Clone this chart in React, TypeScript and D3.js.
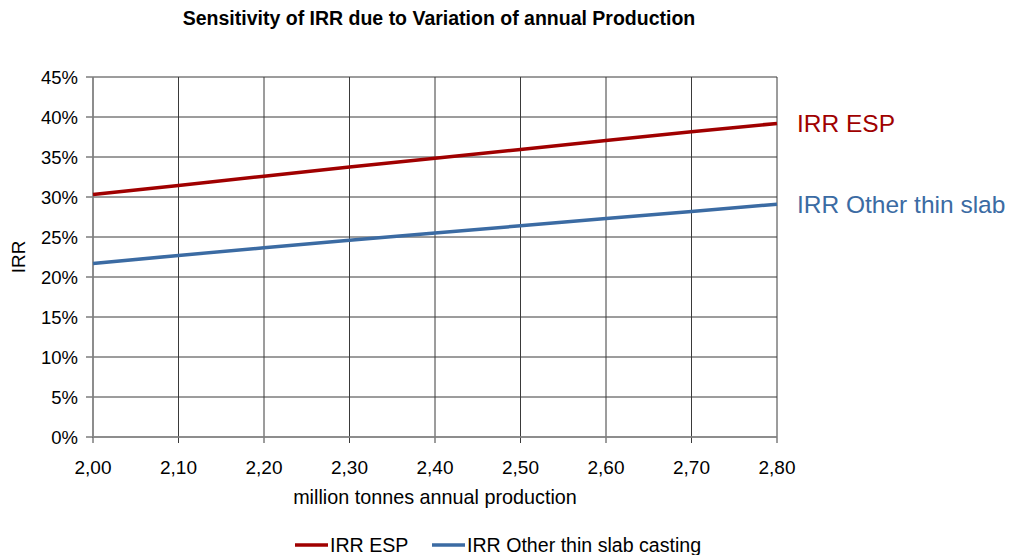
import React from "react";
import * as d3 from "d3";

const production = [2.0, 2.1, 2.2, 2.3, 2.4, 2.5, 2.6, 2.7, 2.8];
const irrEsp = [30.3, 31.45, 32.6, 33.75, 34.85, 35.95, 37.05, 38.15, 39.2];
const irrOther = [21.7, 22.7, 23.65, 24.6, 25.5, 26.4, 27.3, 28.2, 29.1];
const yTicks = [0, 5, 10, 15, 20, 25, 30, 35, 40, 45];

const RED = "#a00000";
const BLUE = "#3b6ba3";
const FONT = "'Liberation Sans', Arial, sans-serif";

export default function App() {
  const width = 1012;
  const height = 555;
  const m = { left: 93, right: 777, top: 77, bottom: 437 };

  const x = d3.scaleLinear().domain([2.0, 2.8]).range([m.left, m.right]);
  const y = d3.scaleLinear().domain([0, 45]).range([m.bottom, m.top]);

  const line = d3
    .line<number>()
    .x((_, i) => x(production[i]))
    .y((v) => y(v));

  const fmt = (v: number) => v.toFixed(2).replace(".", ",");

  return (
    <svg
      width={width}
      height={height}
      style={{ position: "absolute", left: 0, top: 0, fontFamily: FONT }}
    >
      <rect width={width} height={height} fill="#fff" />
      <text x={439} y={25} textAnchor="middle" fontSize={19.5} fontWeight="bold" fill="#000">
        Sensitivity of IRR due to Variation of annual Production
      </text>

      {yTicks.map((t) => (
        <g key={t}>
          <line x1={m.left - 7} x2={m.right} y1={y(t)} y2={y(t)} stroke="#3a3a3a" strokeWidth={1} />
          <text x={m.left - 15} y={y(t) + 7} textAnchor="end" fontSize={18.5} fill="#000">
            {t}%
          </text>
        </g>
      ))}
      {production.map((p) => (
        <g key={p}>
          <line x1={x(p)} x2={x(p)} y1={m.top} y2={m.bottom + 6} stroke="#3a3a3a" strokeWidth={1} />
          <text x={x(p)} y={m.bottom + 37} textAnchor="middle" fontSize={19} fill="#000">
            {fmt(p)}
          </text>
        </g>
      ))}
      <line x1={m.left} x2={m.left} y1={m.top} y2={m.bottom} stroke="#888" strokeWidth={1.5} />
      <line x1={m.left} x2={m.right} y1={m.bottom} y2={m.bottom} stroke="#888" strokeWidth={1.5} />

      <path d={line(irrEsp) ?? ""} fill="none" stroke={RED} strokeWidth={3.5} />
      <path d={line(irrOther) ?? ""} fill="none" stroke={BLUE} strokeWidth={3.5} />

      <text x={797} y={y(irrEsp[irrEsp.length - 1]) + 9} fontSize={24.5} fill={RED}>
        IRR ESP
      </text>
      <text x={797} y={y(irrOther[irrOther.length - 1]) + 9} fontSize={24.5} fill={BLUE}>
        IRR Other thin slab
      </text>

      <text
        transform={`translate(25, ${(m.top + m.bottom) / 2}) rotate(-90)`}
        textAnchor="middle"
        fontSize={19}
        fill="#000"
      >
        IRR
      </text>
      <text x={435} y={504} textAnchor="middle" fontSize={19.8} fill="#000">
        million tonnes annual production
      </text>

      <line x1={295} x2={328} y1={545} y2={545} stroke={RED} strokeWidth={3.5} />
      <text x={330} y={552} fontSize={19.6} fill="#000">IRR ESP</text>
      <line x1={432} x2={465} y1={545} y2={545} stroke={BLUE} strokeWidth={3.5} />
      <text x={467} y={552} fontSize={19.6} fill="#000">IRR Other thin slab casting</text>
    </svg>
  );
}
